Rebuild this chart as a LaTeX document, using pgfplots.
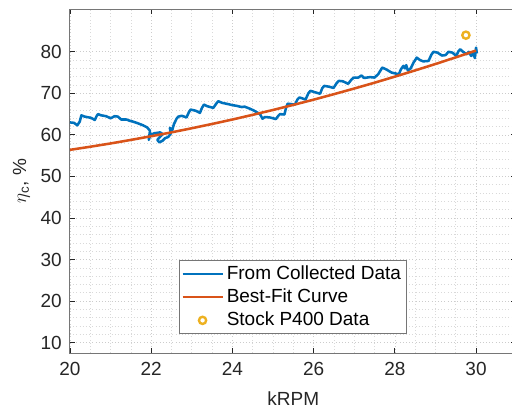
\documentclass[border=0pt]{standalone}
\usepackage{fontspec}
\setmainfont{Liberation Sans}
\usepackage{pgfplots}
\pgfplotsset{compat=1.18}
\definecolor{mblue}{HTML}{0072BD}
\definecolor{morange}{HTML}{D95319}
\definecolor{myellow}{HTML}{EDB120}
\definecolor{mtext}{HTML}{262626}
\definecolor{mspine}{HTML}{767676}
\pgfplotsset{
  lineleg/.style={legend image code/.code={\draw[##1] (0pt,0pt) -- (30pt,0pt);}},
  markleg/.style={legend image code/.code={\draw[##1] plot coordinates {(15pt,0pt)};}},
}
\begin{document}
\fontsize{14.25}{17}\selectfont
\begin{tikzpicture}
\begin{axis}[name=ax, scale only axis, width=335pt, height=258pt,
  xmin=20, xmax=31, ymin=7.5, ymax=90.3,
  xtick={20,22,...,30}, ytick={10,20,...,80},
  minor x tick num=3, minor y tick num=4,
  grid=both,
  major grid style={dotted, line width=0.5pt, gray!40},
  minor grid style={dotted, line width=0.5pt, gray!30},
  tick align=inside, major tick length=4pt, minor tick length=0pt,
  axis line style={color=mspine, line width=0.75pt},
  every tick/.style={mtext, line width=0.6pt},
  ticklabel style={mtext, font=\fontsize{14.25}{17}\selectfont},
  xticklabel style={yshift=-2pt},
  yticklabel style={xshift=-1.3pt},
  /pgf/number format/assume math mode=true,
  xlabel={kRPM}, ylabel={$\eta$\textsubscript{c}, \%},
  label style={mtext, font=\fontsize{14.25}{17}\selectfont},
  xlabel style={at={([yshift=-34pt]axis description cs:0.5,0)}, anchor=center},
  ylabel style={at={([xshift=-36.5pt]axis description cs:0,0.5)}, anchor=center},
  legend style={at={(0.2438,0.0552)}, anchor=south west, draw=mspine, line width=0.6pt,
     font=\fontsize{14.25}{17}\selectfont, text=black, inner sep=1.5pt, row sep=0.6pt,
     nodes={inner sep=2.2pt}},
  legend cell align=left,
]
\addplot[mblue, line width=1.9pt, line join=round, lineleg] coordinates {
(20.00,63.0)(20.10,62.9)(20.18,62.3)(20.24,63.2)(20.28,64.7)(20.36,64.4)
(20.52,64.1)(20.61,63.6)(20.66,64.6)(20.69,65.0)(20.77,64.7)(20.89,64.5)
(21.00,64.0)(21.10,64.5)(21.18,64.4)(21.26,63.7)(21.39,63.7)(21.47,63.4)
(21.55,63.2)(21.67,62.8)(21.80,62.3)(21.90,61.8)(21.97,61.0)(21.94,58.8)
(21.98,60.0)(22.08,60.4)(22.22,60.6)(22.28,60.2)(22.15,58.8)(22.20,58.2)
(22.28,58.6)(22.34,59.2)(22.42,59.5)(22.48,60.3)(22.46,61.7)(22.52,61.2)
(22.56,62.6)(22.63,64.0)(22.67,64.4)(22.75,64.6)(22.87,64.2)(22.93,65.5)
(22.97,66.1)(23.10,65.8)(23.20,65.3)(23.25,66.5)(23.30,67.3)(23.38,66.9)
(23.53,66.5)(23.60,67.5)(23.65,68.1)(23.75,67.7)(23.90,67.4)(23.98,67.2)
(24.10,67.0)(24.23,66.7)(24.30,66.8)(24.43,66.3)(24.52,65.9)(24.61,65.4)
(24.68,65.0)(24.74,63.9)(24.80,64.3)(24.92,64.2)(25.00,64.0)(25.07,63.8)
(25.13,64.6)(25.17,65.0)(25.28,64.9)(25.32,66.5)(25.36,67.5)(25.45,67.4)
(25.54,67.3)(25.60,68.5)(25.65,69.0)(25.72,68.8)(25.80,68.5)(25.87,70.0)
(25.92,70.6)(26.02,70.3)(26.16,69.9)(26.21,71.2)(26.26,71.8)(26.38,71.6)
(26.49,71.3)(26.57,72.5)(26.62,73.0)(26.72,72.9)(26.85,72.3)(26.93,73.3)
(26.99,73.8)(27.10,73.8)(27.18,74.3)(27.24,73.7)(27.39,73.9)(27.50,73.8)
(27.59,74.6)(27.64,75.4)(27.69,76.2)(27.78,75.8)(27.92,75.0)(28.05,74.7)
(28.10,74.6)(28.15,75.8)(28.21,76.6)(28.25,76.0)(28.28,76.8)(28.32,75.5)
(28.39,76.0)(28.46,77.4)(28.54,78.6)(28.62,78.0)(28.70,77.7)(28.83,77.8)
(28.90,79.3)(28.95,80.0)(29.05,79.8)(29.16,79.1)(29.25,79.2)(29.32,80.0)
(29.42,79.8)(29.51,79.0)(29.57,80.2)(29.61,80.6)(29.68,80.0)(29.77,79.4)
(29.82,80.0)(29.88,79.0)(29.93,79.7)(29.97,78.5)(30.00,81.0)(30.02,79.6)
};
\addlegendentry{From Collected Data}
\addplot[morange, line width=1.9pt, lineleg] coordinates {
(20.0,56.40)(20.5,57.15)(21.0,57.94)(21.5,58.79)(22.0,59.68)(22.5,60.61)
(23.0,61.60)(23.5,62.63)(24.0,63.70)(24.5,64.83)(25.0,66.00)(25.5,67.22)
(26.0,68.48)(26.5,69.80)(27.0,71.16)(27.5,72.56)(28.0,74.02)(28.5,75.52)
(29.0,77.06)(29.5,78.66)(30.0,80.30)
};
\addlegendentry{Best-Fit Curve}
\addplot[only marks, mark=o, mark size=2.7pt, myellow, line width=1.8pt, markleg] coordinates {
(29.75,84.0)
};
\addlegendentry{Stock P400 Data}
\end{axis}
\pgfresetboundingbox
\path ([xshift=-52.5pt,yshift=-42.75pt]ax.south west) rectangle ([xshift=331.5pt,yshift=6.75pt]ax.north west);
\end{tikzpicture}
\end{document}
